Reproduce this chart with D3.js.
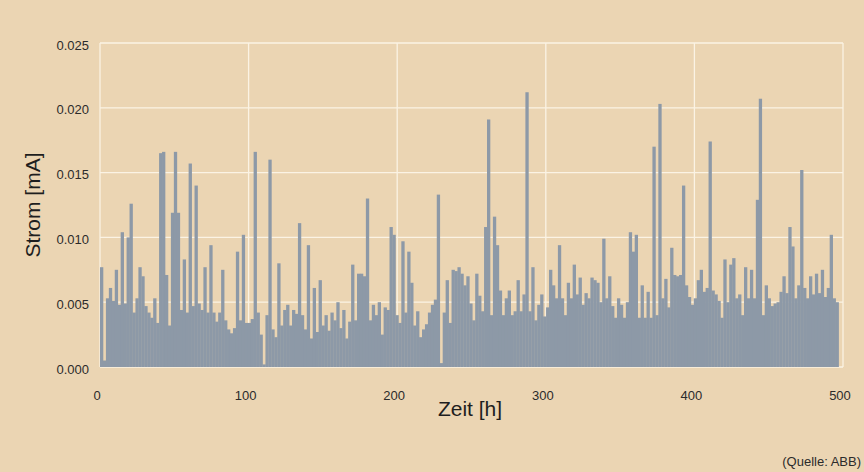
<!DOCTYPE html>
<html>
<head>
<meta charset="utf-8">
<title>Strom [mA] über Zeit [h]</title>
<script src="https://d3js.org/d3.v7.min.js"></script>
<style>
  body { margin: 0; background: #ebd5b3; }
  svg { display: block; font-family: "Liberation Sans", Arial, Helvetica, sans-serif; }
</style>
</head>
<body>
<div id="chart"></div>
<script>
// Messwerte in 1/1000 mA, ein Balken je Messintervall
var strom_0_84 = [7.7, 0.5, 5.3, 6.1, 5.1, 7.5, 4.8, 10.4, 4.9, 10.0, 12.6, 4.2, 5.3, 7.7, 7.0, 4.7, 4.2, 3.8, 5.3, 3.4,
  16.5, 16.6, 7.1, 3.2, 11.9, 16.6, 11.9, 4.4, 8.3, 4.2, 15.7, 4.7, 14.0, 4.9, 4.4, 7.7, 4.2, 9.4, 4.2, 3.5, 4.2, 7.5];
var strom_84_170 = [3.6, 2.9, 2.6, 3.0, 8.9, 3.6, 10.2, 3.4, 3.4, 3.7, 16.6, 4.2, 2.5, 0.2, 4.0, 16.0, 2.9, 2.3, 8.0, 3.2,
  4.4, 4.8, 3.2, 4.4, 4.1, 11.1, 4.0, 2.9, 9.4, 2.2, 6.1, 2.7, 6.7, 3.2, 4.0, 2.8, 4.2, 3.6, 5.0, 3.0, 4.4, 2.2, 3.5];
var strom_170_256 = [7.9, 3.6, 7.2, 7.2, 7.0, 13.0, 3.6, 4.8, 4.0, 5.0, 2.5, 4.6, 4.4, 10.8, 10.2, 4.0, 3.4, 9.7, 4.2, 8.9,
  6.5, 3.2, 4.3, 2.3, 2.9, 3.3, 4.2, 4.8, 5.2, 13.3, 0.3, 4.2, 6.7, 3.4, 7.5, 7.4, 7.7, 7.2, 6.3, 7.0, 4.9, 3.6, 7.2, 5.5];
var strom_256_342 = [4.3, 10.8, 19.1, 4.0, 11.6, 9.4, 5.9, 4.0, 5.3, 5.9, 4.0, 4.3, 6.7, 4.3, 5.6, 21.2, 4.3, 7.7, 3.6, 4.8,
  5.6, 3.9, 4.6, 7.5, 6.3, 5.3, 9.4, 5.3, 4.0, 6.5, 5.3, 7.9, 5.6, 6.9, 4.8, 5.7, 5.3, 6.9, 6.7, 6.5, 5.0, 9.9, 5.3];
var strom_342_424 = [7.0, 4.7, 3.8, 5.3, 4.8, 3.8, 5.0, 10.4, 8.9, 10.2, 3.8, 6.3, 3.8, 5.8, 3.8, 17.0, 4.0, 20.3, 5.3, 6.8,
  4.6, 9.2, 7.1, 7.0, 7.1, 14.0, 6.3, 5.4, 4.8, 5.3, 6.7, 7.5, 5.8, 6.1, 17.4, 5.9, 5.6, 5.1, 3.8, 8.3, 5.0];
var strom_424_497 = [7.9, 8.4, 5.3, 5.6, 4.0, 7.7, 5.3, 7.5, 5.3, 12.9, 20.7, 4.0, 6.3, 5.3, 4.7, 4.9, 5.0, 5.8, 7.0, 5.7,
  10.8, 9.3, 5.3, 6.3, 15.2, 6.1, 5.3, 7.0, 5.6, 7.2, 5.7, 7.5, 5.4, 6.1, 10.2, 5.3, 5.0];

var strom = [].concat(strom_0_84, strom_84_170, strom_170_256, strom_256_342, strom_342_424, strom_424_497);
var intervall = 1.988; // h je Balken

var zeitTicks = [0, 100, 200, 300, 400, 500];
var stromTicks = [0, 5, 10, 15, 20, 25];

var W = 864, H = 472;
var svg = d3.select("#chart").append("svg")
  .attr("width", W).attr("height", H);

svg.append("rect").attr("width", W).attr("height", H).attr("fill", "#ebd5b3");

var x = d3.scaleLinear().domain([0, 500]).range([100, 843]);
var y = d3.scaleLinear().domain([0, 25]).range([367, 43]);

// Gitter
var grid = svg.append("g").attr("stroke", "#fbf3e4").attr("stroke-width", 1.3);
grid.selectAll("line.h").data(stromTicks).enter().append("line")
  .attr("x1", x(0)).attr("x2", x(500))
  .attr("y1", function(d) { return y(d); }).attr("y2", function(d) { return y(d); });
grid.selectAll("line.v").data(zeitTicks).enter().append("line")
  .attr("y1", y(0)).attr("y2", y(25))
  .attr("x1", function(d) { return x(d); }).attr("x2", function(d) { return x(d); });

// Balken
var bw = x(intervall) - x(0);
svg.append("g").selectAll("rect").data(strom).enter().append("rect")
  .attr("x", function(d, i) { return x(i * intervall); })
  .attr("width", bw + 0.35)
  .attr("y", function(d) { return y(d); })
  .attr("height", function(d) { return y(0) - y(d); })
  .attr("fill", "#8d99a7");

// Achsenbeschriftung
svg.append("g").selectAll("text").data(stromTicks).enter().append("text")
  .attr("x", 89).attr("y", function(d) { return y(d) + 2; })
  .attr("dy", "0.35em").attr("text-anchor", "end")
  .attr("font-size", 13).attr("fill", "#2b2b2b")
  .text(function(d) { return (d / 1000).toFixed(3); });

svg.append("g").selectAll("text").data(zeitTicks).enter().append("text")
  .attr("x", function(d) { return x(d) - 3; }).attr("y", 400)
  .attr("text-anchor", "middle")
  .attr("font-size", 13).attr("fill", "#2b2b2b")
  .text(function(d) { return d; });

svg.append("text")
  .attr("transform", "translate(40,205) rotate(-90)")
  .attr("text-anchor", "middle")
  .attr("font-size", 21).attr("fill", "#1e1e1e")
  .text("Strom [mA]");

svg.append("text")
  .attr("x", 470).attr("y", 416)
  .attr("text-anchor", "middle")
  .attr("font-size", 21).attr("fill", "#1e1e1e")
  .text("Zeit [h]");

svg.append("text")
  .attr("x", 861).attr("y", 466)
  .attr("text-anchor", "end")
  .attr("font-size", 13).attr("fill", "#2b2b2b")
  .text("(Quelle: ABB)");
</script>
</body>
</html>
